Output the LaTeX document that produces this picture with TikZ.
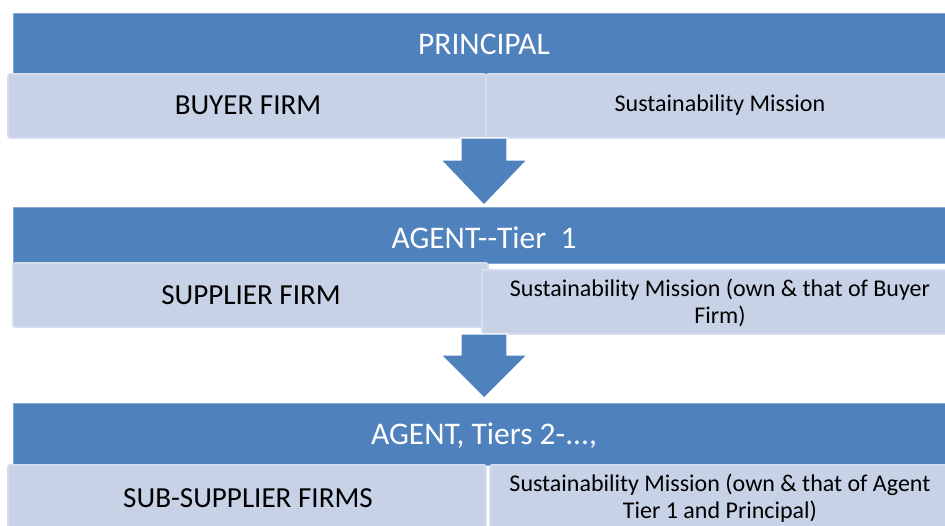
\documentclass[tikz,border=0pt]{standalone}
\usepackage{fontspec}
\setmainfont{Carlito}
\usetikzlibrary{calc,fit}
\definecolor{bannerblue}{RGB}{79,129,189}
\definecolor{cellfill}{RGB}{199,210,231}
\definecolor{celledge}{RGB}{214,221,236}
\tikzset{
  bannerbox/.style={fill=bannerblue, draw=bannerblue!70!white, line width=0.6pt, inner sep=0pt},
  bannertext/.style={text=white, font=\fontsize{23.6pt}{27pt}\selectfont},
  cellbox/.style={fill=cellfill, draw=celledge, line width=1.2pt, rounded corners=1.5pt, inner sep=0pt},
  leftlabel/.style={text=black, font=\fontsize{21.8pt}{25pt}\selectfont},
  rightlabel/.style={text=black, font=\fontsize{18pt}{20pt}\selectfont, align=center},
  blockarr/.style={fill=bannerblue, draw=white, line width=0.8pt, line join=miter}
}
\begin{document}
\begin{tikzpicture}[x=0.75pt,y=-0.75pt]
\useasboundingbox (0,0) rectangle (945,525);

% ---------- level 1 ----------
\node[bannerbox, fit={(13,13) (945,74)}] (b1) {};
\node[bannertext] (b1t) at (484,44) {PRINCIPAL};
\node[cellbox, fit={(8,74) (486,138)}] (l1) {};
\node[cellbox, fit={(486,74) (950,138)}] (r1) {};
\node[leftlabel] (l1t) at (248,105) {BUYER FIRM};
\node[rightlabel] (r1t) at (720,105) {Sustainability Mission};

% ---------- arrow 1 ----------
\coordinate (t1) at (484,138);
\coordinate (h1) at (484,205);
\fill[blockarr] ($(t1)+(-23,0)$) -- ($(t1)+(23,0)$) -- ($(t1)+(23,22)$) -- ($(t1)+(43,22)$)
  -- (h1) -- ($(t1)+(-43,22)$) -- ($(t1)+(-23,22)$) -- cycle;

% ---------- level 2 ----------
\node[bannerbox, fit={(13,207) (945,263)}] (b2) {};
\node[bannertext] (b2t) at (484,238) {AGENT-{}-Tier\ \ 1};
\node[cellbox, fit={(13,263) (488,327)}] (l2) {};
\node[cellbox, fit={(482,270) (950,334)}] (r2) {};
\node[leftlabel] (l2t) at (251,295) {SUPPLIER FIRM};
\node[rightlabel] (r2t) at (720,303) {Sustainability Mission (own \& that of Buyer\\Firm)};

% ---------- arrow 2 ----------
\coordinate (t2) at (484,334);
\coordinate (h2) at (484,398);
\fill[blockarr] ($(t2)+(-23,0)$) -- ($(t2)+(23,0)$) -- ($(t2)+(23,21)$) -- ($(t2)+(43,21)$)
  -- (h2) -- ($(t2)+(-43,21)$) -- ($(t2)+(-23,21)$) -- cycle;

% ---------- level 3 ----------
\node[bannerbox, fit={(13,403) (945,465)}] (b3) {};
\node[bannertext] (b3t) at (484,436) {AGENT, Tiers 2-.{}.{}.,};
\node[cellbox, fit={(8,465) (486,535)}] (l3) {};
\node[cellbox, fit={(490,465) (950,535)}] (r3) {};
\node[leftlabel] (l3t) at (248,498) {SUB-SUPPLIER FIRMS};
\node[rightlabel] (r3t) at (720,498) {Sustainability Mission (own \& that of Agent\\Tier 1 and Principal)};
\end{tikzpicture}
\end{document}
